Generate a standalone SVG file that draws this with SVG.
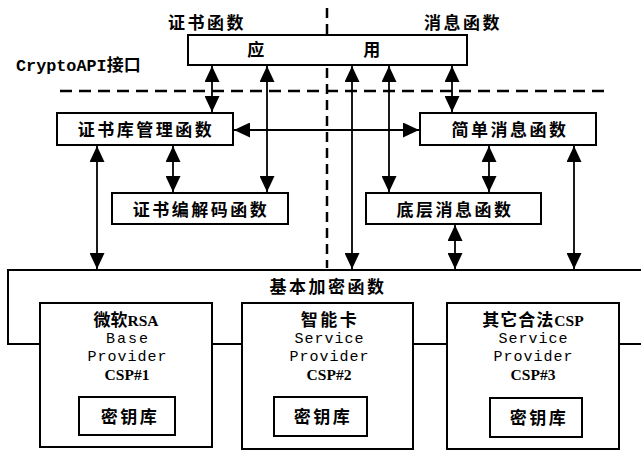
<svg xmlns="http://www.w3.org/2000/svg" width="641" height="454" viewBox="0 0 641 454">
<style>
.box{fill:#fff;stroke:#000;stroke-width:2}
.cn{font-family:"Noto Sans CJK SC","Noto Sans",sans-serif;font-weight:bold;font-size:17px;letter-spacing:2.5px;fill:#000;text-anchor:middle}
.mono{font-family:"Liberation Mono","DejaVu Sans Mono",monospace;font-size:15px;fill:#000;text-anchor:middle}
.serif{font-family:"Liberation Serif","Noto Sans CJK SC",serif;font-size:15.5px;font-weight:bold;fill:#000;text-anchor:middle}
.line{stroke:#000;stroke-width:1.8;fill:none}
.dash{stroke:#000;stroke-width:2.5;fill:none;stroke-dasharray:12 7}
.arr{stroke:#000;stroke-width:1.8;fill:none;marker-start:url(#ah);marker-end:url(#ah)}
</style>
<defs>
<marker id="ah" markerUnits="userSpaceOnUse" markerWidth="16" markerHeight="15" refX="16" refY="7.5" orient="auto-start-reverse" viewBox="0 0 16 15">
<path d="M0,0 L16,7.5 L0,15 z" fill="#000"/>
</marker>
</defs>
<rect width="641" height="454" fill="#fff"/>

<g id="labels">
<text class="cn" x="207" y="29">证书函数</text>
<text class="cn" x="463" y="29">消息函数</text>
<text x="16" y="71" style="font-family:'Liberation Mono',monospace;font-size:16.8px;font-weight:bold;fill:#000">CryptoAPI<tspan style="font-family:'Noto Sans CJK SC',sans-serif;font-size:17px">接口</tspan></text>
</g>

<g id="dividers">
<line class="dash" x1="60" y1="91" x2="605" y2="91"/>
<line class="dash" x1="327" y1="8" x2="327" y2="35" style="stroke-dasharray:10 6"/>
<line class="dash" x1="327" y1="68" x2="327" y2="268" style="stroke-dasharray:10 6"/>
</g>

<g id="app">
<rect class="box" x="188" y="35" width="279" height="30"/>
<text class="cn" x="257" y="56">应</text>
<text class="cn" x="373" y="56">用</text>
</g>

<g id="cert-store">
<rect class="box" x="57" y="113" width="176" height="32"/>
<text class="cn" x="146" y="136">证书库管理函数</text>
</g>

<g id="simple-msg">
<rect class="box" x="420" y="113" width="176" height="32"/>
<text class="cn" x="510" y="136">简单消息函数</text>
</g>

<g id="cert-codec">
<rect class="box" x="112" y="193" width="176" height="31"/>
<text class="cn" x="201" y="216">证书编解码函数</text>
</g>

<g id="low-msg">
<rect class="box" x="366" y="193" width="175" height="31"/>
<text class="cn" x="455" y="216">底层消息函数</text>
</g>

<g id="base-crypto">
<path class="line" d="M641,270 H8 V344 H40 M212,344 H242 M413,344 H447 M619,344 H641" style="stroke-width:2"/>
<text class="cn" x="328" y="293">基本加密函数</text>
</g>

<g id="csp1">
<rect class="box" x="40" y="303" width="172" height="144"/>
<text class="serif" x="126" y="326"><tspan style="font-family:'Noto Sans CJK SC',sans-serif;font-size:17px">微软</tspan>RSA</text>
<text class="mono" x="127" y="343" textLength="42">Base</text>
<text class="mono" x="127" y="361" textLength="79">Provider</text>
<text class="serif" x="127" y="380">CSP#1</text>
<rect class="box" x="79" y="397" width="96" height="38"/>
<text class="cn" x="130" y="423">密钥库</text>
</g>

<g id="csp2">
<rect class="box" x="242" y="303" width="171" height="146"/>
<text class="cn" x="330" y="326">智能卡</text>
<text class="mono" x="329" y="343" textLength="69">Service</text>
<text class="mono" x="329" y="361" textLength="79">Provider</text>
<text class="serif" x="329" y="380">CSP#2</text>
<rect class="box" x="274" y="397" width="93" height="39"/>
<text class="cn" x="323" y="423">密钥库</text>
</g>

<g id="csp3">
<rect class="box" x="447" y="303" width="172" height="146"/>
<text class="serif" x="533" y="326"><tspan style="font-family:'Noto Sans CJK SC',sans-serif;font-size:17px;letter-spacing:1px">其它合法</tspan>CSP</text>
<text class="mono" x="533" y="343" textLength="69">Service</text>
<text class="mono" x="533" y="361" textLength="79">Provider</text>
<text class="serif" x="533" y="380">CSP#3</text>
<rect class="box" x="490" y="398" width="92" height="39"/>
<text class="cn" x="539" y="424">密钥库</text>
</g>

<g id="connectors">
<line class="arr" x1="212" y1="66" x2="212" y2="112"/>
<line class="arr" x1="267" y1="66" x2="267" y2="192"/>
<line class="arr" x1="352" y1="66" x2="352" y2="269"/>
<line class="arr" x1="389" y1="66" x2="389" y2="192"/>
<line class="arr" x1="452" y1="66" x2="452" y2="112"/>
<line class="arr" x1="234" y1="130" x2="419" y2="130"/>
<line class="arr" x1="97" y1="146" x2="97" y2="269"/>
<line class="arr" x1="173" y1="146" x2="173" y2="192"/>
<line class="arr" x1="489" y1="146" x2="489" y2="192"/>
<line class="arr" x1="574" y1="146" x2="574" y2="269"/>
<line class="arr" x1="455" y1="225" x2="455" y2="269"/>
</g>
</svg>
